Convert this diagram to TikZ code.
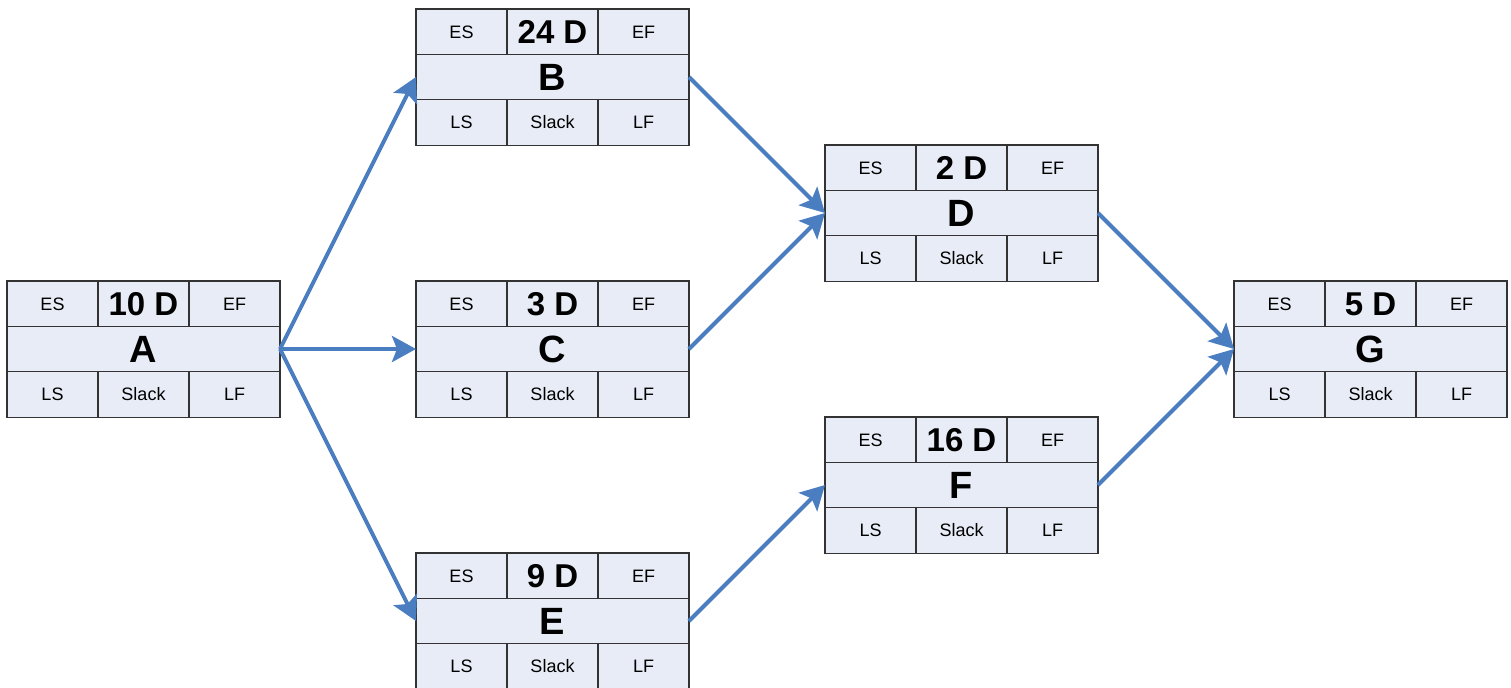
\documentclass[tikz,border=0pt]{standalone}
\usepackage{fontspec}
\setmainfont{Liberation Sans}
\usetikzlibrary{arrows.meta}
\definecolor{boxfill}{RGB}{231,236,246}
\definecolor{arrowblue}{RGB}{74,126,192}

\tikzset{
  cell/.style={draw=black!80, line width=0.6pt, fill=boxfill, minimum width=45.5pt,
    minimum height=22.7pt, inner sep=0pt, outer sep=0pt, text height=6.5pt, text depth=0pt,
    font=\fontsize{9}{9}\selectfont},
  durcell/.style={cell, text height=11.8pt, font=\fontsize{16.5}{16.5}\selectfont\bfseries},
  midcell/.style={cell, minimum width=136.5pt, text height=13.6pt, font=\fontsize{19}{19}\selectfont\bfseries},
  link/.style={arrowblue, line width=2pt, -{Stealth[length=12pt,width=13pt,inset=2.5pt]}}
}
\newcommand{\task}[3]{%
  \node[midcell] (#1) at (#2) {#1};
  \node[durcell, anchor=south] (#1d) at (#1.north) {#3};
  \node[cell, anchor=east] (#1es) at (#1d.west) {ES};
  \node[cell, anchor=west] (#1ef) at (#1d.east) {EF};
  \node[cell, anchor=north] (#1sl) at (#1.south) {Slack};
  \node[cell, anchor=east] (#1ls) at (#1sl.west) {LS};
  \node[cell, anchor=west] (#1lf) at (#1sl.east) {LF};
}

\begin{document}
\begin{tikzpicture}[x=0.5pt,y=-0.5pt]
  \useasboundingbox (0,0) rectangle (1511,687);
  \task{A}{143.5,349}{10 D}
  \task{B}{552.5,77}{24 D}
  \task{C}{552.5,349}{3 D}
  \task{E}{552.5,621}{9 D}
  \task{D}{961.5,213}{2 D}
  \task{F}{961.5,485}{16 D}
  \task{G}{1370.5,349}{5 D}
  \draw[link] (A.east) -- (B.west);
  \draw[link] (A.east) -- (C.west);
  \draw[link] (A.east) -- (E.west);
  \draw[link] (B.east) -- (D.west);
  \draw[link] (C.east) -- (D.west);
  \draw[link] (E.east) -- (F.west);
  \draw[link] (D.east) -- (G.west);
  \draw[link] (F.east) -- (G.west);
\end{tikzpicture}
\end{document}
